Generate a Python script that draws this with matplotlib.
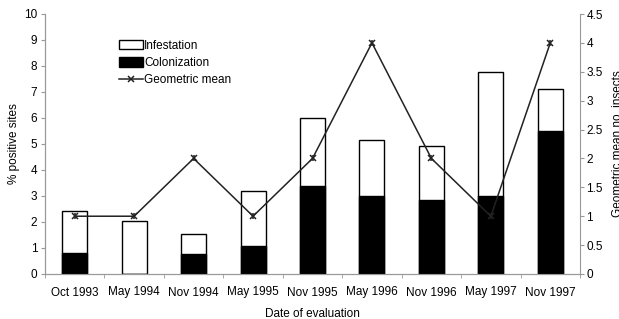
import matplotlib.pyplot as plt
import numpy as np
from matplotlib.lines import Line2D
from matplotlib.patches import Patch

plt.rcParams["font.family"] = ["Liberation Sans", "DejaVu Sans"]
plt.rcParams["font.size"] = 8.5

dates = ["Oct 1993", "May 1994", "Nov 1994", "May 1995", "Nov 1995",
         "May 1996", "Nov 1996", "May 1997", "Nov 1997"]
# % positive sites (total bar height) and the colonized part
infestation = [2.43, 2.04, 1.54, 3.19, 6.0, 5.15, 4.92, 7.76, 7.13]
colonization = [0.82, 0.0, 0.76, 1.06, 3.38, 3.0, 2.85, 3.0, 5.5]
# geometric mean number of insects (right axis)
geo_mean = [1, 1, 2, 1, 2, 4, 2, 1, 4]

axis_col = "#999999"

fig = plt.figure(figsize=(6.19, 3.19), dpi=100)
ax = fig.add_axes([45 / 619, 45 / 319, 535 / 619, 260 / 319])
ax2 = ax.twinx()

x = np.arange(len(dates))
w = 0.42
ax.bar(x, infestation, w, color="white", edgecolor="black", linewidth=1.0,
       label="Infestation", zorder=2)
ax.bar(x, colonization, w, color="black", edgecolor="black", linewidth=1.0,
       label="Colonization", zorder=3)

ax2.plot(x, geo_mean, color="#222222", linewidth=1.1, marker="x",
         markersize=5, markeredgewidth=1.1, zorder=4)
ax2.plot(x, geo_mean, color="#222222", linestyle="none", marker="|",
         markersize=5, markeredgewidth=1.1, zorder=4)

ax.set_xlim(-0.5, len(dates) - 0.5)
ax.set_ylim(0, 10)
ax.set_yticks(range(0, 11))
ax2.set_ylim(0, 4.5)
ax2.set_yticks(np.arange(0, 4.6, 0.5))
ax2.set_yticklabels([f"{v:g}" for v in np.arange(0, 4.6, 0.5)])

ax.set_xticks(x)
ax.set_xticklabels(dates)
ax.set_xticks(np.arange(-0.5, len(dates), 1), minor=True)
ax.tick_params(axis="x", which="major", length=0, pad=9)
ax.tick_params(axis="x", which="minor", length=3, color=axis_col)
ax.tick_params(axis="y", length=3, color=axis_col, pad=2.5)
ax2.tick_params(axis="y", length=3, color=axis_col, pad=1.5)

for a in (ax, ax2):
    a.spines["top"].set_visible(False)
    for s in ("left", "right", "bottom"):
        a.spines[s].set_color(axis_col)
        a.spines[s].set_linewidth(0.8)
ax.spines["right"].set_visible(False)

ax.set_ylabel("% positive sites", labelpad=3)
ax2.set_ylabel("Geometric mean no. insects", labelpad=7)
ax.set_xlabel("Date of evaluation", labelpad=7)

handles = [
    Patch(facecolor="white", edgecolor="black", linewidth=1.0),
    Patch(facecolor="black", edgecolor="black"),
    Line2D([], [], color="#222222", linewidth=1.1, marker="x", markersize=5,
           markeredgewidth=1.1),
]
ax.legend(handles, ["Infestation", "Colonization", "Geometric mean"],
          loc="upper left", bbox_to_anchor=(0.13, 0.92), frameon=False,
          handlelength=2.0, handleheight=0.9, handletextpad=0.1,
          labelspacing=0.45, borderaxespad=0)

fig.savefig("out.png", dpi=100)
